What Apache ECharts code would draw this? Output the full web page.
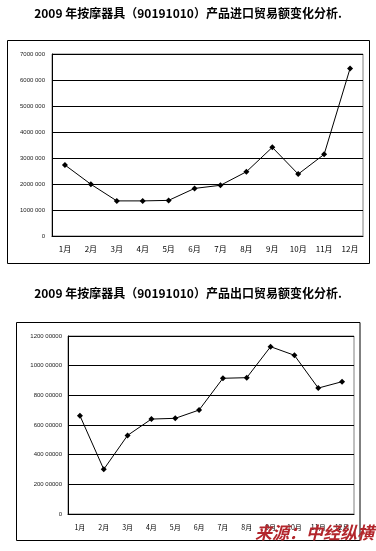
<!DOCTYPE html>
<html><head><meta charset="utf-8">
<script src="https://cdn.jsdelivr.net/npm/echarts@6/dist/echarts.min.js"></script>
<style>html,body{margin:0;padding:0;background:#fff}#c{width:376px;height:551px}</style>
</head><body><div id="c"></div>
<script>
var months = ['1月','2月','3月','4月','5月','6月','7月','8月','9月','10月','11月','12月'];
var importValues = [2730000, 1990000, 1350000, 1350000, 1370000, 1830000, 1950000, 2470000, 3410000, 2380000, 3140000, 6440000];
var exportValues = [66300000, 30100000, 53000000, 64000000, 64500000, 70100000, 91500000, 91900000, 112800000, 107000000, 84900000, 89200000];
var importTickLabels = {0:'0',1000000:'1000 000',2000000:'2000 000',3000000:'3000 000',4000000:'4000 000',5000000:'5000 000',6000000:'6000 000',7000000:'7000 000'};
var exportTickLabels = {0:'0',20000000:'200 00000',40000000:'400 00000',60000000:'600 00000',80000000:'800 00000',100000000:'1000 00000',120000000:'1200 00000'};
var title1 = '2009 年按摩器具（90191010）产品进口贸易额变化分析.';
var title2 = '2009 年按摩器具（90191010）产品出口贸易额变化分析.';
var sourceText = '来源：中经纵横';

var chart = echarts.init(document.getElementById('c'), null, {renderer:'canvas'});
var titleStyle = {fontSize: 12, fontWeight: 'bold', color: '#000', fontFamily: '"Noto Sans CJK SC", serif'};
function xAxisFor(gi, fs, margin){
  return {type:'category', gridIndex: gi, data: months, boundaryGap: true,
    axisLine:{lineStyle:{color:'#000', width:1}},
    axisTick:{inside:true, length:3, lineStyle:{color:'#000'}},
    axisLabel:{fontSize: fs, color:'#000', margin: margin, fontFamily:'"Noto Sans CJK SC", sans-serif', interval:0},
    splitLine:{show:false}};
}
function yAxisFor(gi, max, interval, labels, margin){
  return {type:'value', gridIndex: gi, min:0, max:max, interval:interval,
    axisLine:{show:true, lineStyle:{color:'#000', width:1}},
    axisTick:{show:false},
    axisLabel:{fontSize:6, color:'#222', margin: margin, fontFamily:'Arial, "Liberation Sans", sans-serif',
      formatter:function(v){ return labels[v] !== undefined ? labels[v] : v; }},
    splitLine:{show:true, lineStyle:{color:'#000', width:1}}};
}
var lineSeries = function(xi, data){
  return {type:'line', xAxisIndex: xi, yAxisIndex: xi, data: data,
    symbol:'diamond', symbolSize:6, showSymbol:true,
    lineStyle:{color:'#000', width:1}, itemStyle:{color:'#000'}, animation:false};
};
chart.setOption({
  animation:false,
  title:[
    {text: title1, left:'center', top: 2, textStyle: titleStyle},
    {text: title2, left:'center', top: 282, textStyle: titleStyle}
  ],
  grid:[
    {left:52, top:54, width:311, height:182, show:true, borderColor:'#808080', borderWidth:1, backgroundColor:'transparent'},
    {left:68, top:336, width:286, height:178, show:true, borderColor:'#808080', borderWidth:1, backgroundColor:'transparent'}
  ],
  xAxis:[ xAxisFor(0, 8, 9), xAxisFor(1, 7, 10) ],
  yAxis:[ yAxisFor(0, 7000000, 1000000, importTickLabels, 7), yAxisFor(1, 120000000, 20000000, exportTickLabels, 6) ],
  series:[ lineSeries(0, importValues), lineSeries(1, exportValues) ],
  graphic:[
    {type:'rect', shape:{x:7.5, y:40.5, width:362, height:223}, style:{fill:'none', stroke:'#000', lineWidth:1}, z:-1},
    {type:'rect', shape:{x:16.5, y:322.5, width:343.5, height:218}, style:{fill:'none', stroke:'#000', lineWidth:1}, z:-1},
    {type:'text', right:2, top:524, style:{text: sourceText, fill:'#b3262c', font:'italic bold 17px "Noto Sans CJK SC", sans-serif'}, z:10}
  ]
});
</script></body></html>
